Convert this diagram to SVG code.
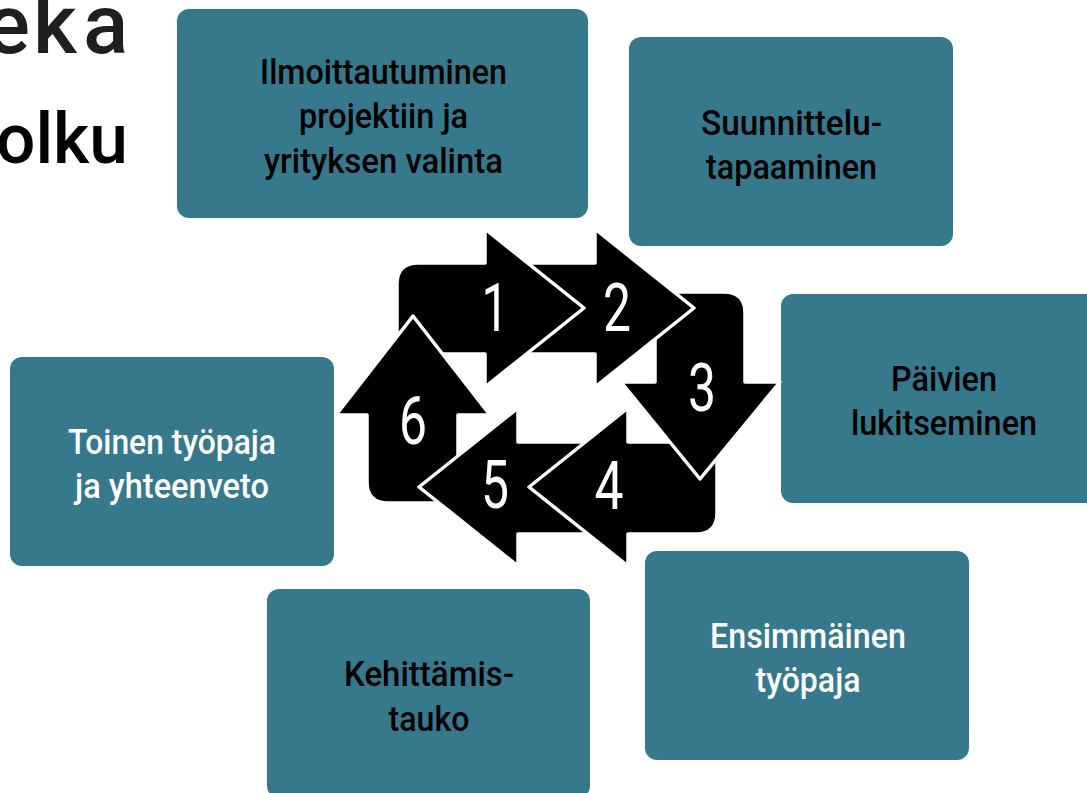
<svg xmlns="http://www.w3.org/2000/svg" width="1087" height="793" viewBox="0 0 1087 793">
<style>
.box{fill:#36788c}
.t{font-family:Roboto,"Liberation Sans",sans-serif;font-size:35px;font-weight:500;text-anchor:middle;fill:#000}
.w{fill:#fff}
.a{fill:#000;stroke:#fff;stroke-width:3.5;stroke-linejoin:round}
.n{font-family:Roboto,"Liberation Sans",sans-serif;font-size:66px;font-weight:400;text-anchor:middle;fill:#fff}
.title{font-family:Roboto,"Liberation Sans",sans-serif;font-weight:500}
</style>
<rect width="1087" height="793" fill="#fff"/>
<g id="title">
<text class="title" x="-15 33 83" y="53" font-size="84" fill="#1f1f1f" font-weight="400">eka</text>
<text class="title" x="128" y="163" font-size="71" fill="#000" text-anchor="end" textLength="132" lengthAdjust="spacingAndGlyphs">olku</text>
</g>
<g id="node1"><rect class="box" x="177" y="9" width="411" height="209" rx="12"/>
<text class="t" x="383.500" y="84" textLength="247" lengthAdjust="spacingAndGlyphs">Ilmoittautuminen</text>
<text class="t" x="383.500" y="128" textLength="169" lengthAdjust="spacingAndGlyphs">projektiin ja</text>
<text class="t" x="383.500" y="173" textLength="239" lengthAdjust="spacingAndGlyphs">yrityksen valinta</text></g>
<g id="node2"><rect class="box" x="629" y="37" width="324" height="209" rx="12"/>
<text class="t" x="791.500" y="135" textLength="181" lengthAdjust="spacingAndGlyphs">Suunnittelu-</text>
<text class="t" x="791.500" y="179" textLength="171" lengthAdjust="spacingAndGlyphs">tapaaminen</text></g>
<g id="node3"><rect class="box" x="781" y="294" width="324" height="209" rx="12"/>
<text class="t" x="944" y="391" textLength="106" lengthAdjust="spacingAndGlyphs">Päivien</text>
<text class="t" x="944" y="435" textLength="186" lengthAdjust="spacingAndGlyphs">lukitseminen</text></g>
<g id="node4"><rect class="box" x="645" y="551" width="324" height="209" rx="12"/>
<text class="t w" x="808" y="648" textLength="196" lengthAdjust="spacingAndGlyphs">Ensimmäinen</text>
<text class="t w" x="808" y="692" textLength="105" lengthAdjust="spacingAndGlyphs">työpaja</text></g>
<g id="node5"><rect class="box" x="267" y="589" width="323" height="209" rx="12"/>
<text class="t" x="429" y="686" textLength="170" lengthAdjust="spacingAndGlyphs">Kehittämis-</text>
<text class="t" x="429" y="731" textLength="81" lengthAdjust="spacingAndGlyphs">tauko</text></g>
<g id="node6"><rect class="box" x="10" y="357" width="324" height="209" rx="12"/>
<text class="t w" x="172" y="454" textLength="208" lengthAdjust="spacingAndGlyphs">Toinen työpaja</text>
<text class="t w" x="172" y="498" textLength="194" lengthAdjust="spacingAndGlyphs">ja yhteenveto</text></g>
<g id="connectors">
<path id="arrow1" class="a" d="M397 284Q397 263 418 263H485V229L584 308 485 387V354H418Q397 354 397 333Z"/>
<path id="arrow6" class="a" d="M367 482Q367 503 388 503H437Q458 503 458 482V415H490L413 316 336 415H367Z"/>
<path id="arrow5" class="a" d="M620 442H518V408L419 487 518 566V534H620Z"/>
<path id="arrow4" class="a" d="M696 442H628V408L529 487 628 566V534H696Q717 534 717 513V463Q717 442 696 442Z"/>
<path id="arrow3" class="a" d="M724 292Q745 292 745 313V382H780L700 479 621 382H655V292Z"/>
<path id="arrow2" class="a" d="M510 263H595V229L694 308 595 387V354H510Z"/>
<path id="arrow1head" fill="#000" d="M487 265V231L584 308 487 385V352Z"/>
<path id="arrow1edge" fill="none" stroke="#fff" stroke-width="3.5" stroke-linejoin="round" d="M485 387L584 308 485 229"/>
</g>
<g id="numbers">
<text class="n" x="495" y="331" textLength="27" lengthAdjust="spacingAndGlyphs">1</text>
<text class="n" x="617" y="331" textLength="28" lengthAdjust="spacingAndGlyphs">2</text>
<text class="n" x="702" y="411" textLength="28" lengthAdjust="spacingAndGlyphs">3</text>
<text class="n" x="609" y="509" textLength="29" lengthAdjust="spacingAndGlyphs">4</text>
<text class="n" x="495" y="508" textLength="28" lengthAdjust="spacingAndGlyphs">5</text>
<text class="n" x="413" y="444" textLength="28" lengthAdjust="spacingAndGlyphs">6</text>
</g>
</svg>
